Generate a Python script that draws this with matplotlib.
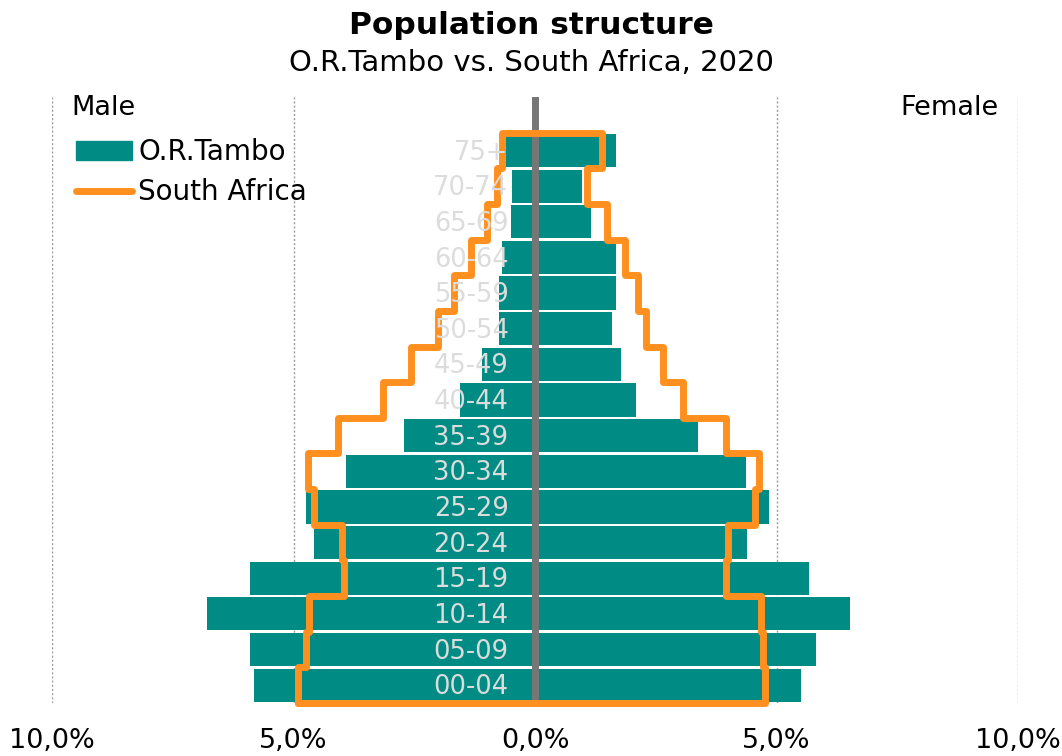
import matplotlib
import matplotlib.pyplot as plt
import numpy as np
from matplotlib.patches import Patch
from matplotlib.lines import Line2D

matplotlib.rcParams.update({'font.family': 'DejaVu Sans'})

# %%
ages = ['00-04', '05-09', '10-14', '15-19', '20-24', '25-29', '30-34', '35-39',
        '40-44', '45-49', '50-54', '55-59', '60-64', '65-69', '70-74', '75+']
# share of total population, %
ort_male = [5.82, 5.90, 6.79, 5.90, 4.57, 4.74, 3.91, 2.71,
            1.55, 1.09, 0.74, 0.74, 0.69, 0.49, 0.47, 0.61]
ort_female = [5.51, 5.82, 6.53, 5.67, 4.39, 4.84, 4.37, 3.38,
              2.09, 1.79, 1.60, 1.67, 1.67, 1.15, 0.98, 1.67]
sa_male = [4.91, 4.74, 4.68, 3.95, 3.99, 4.57, 4.70, 4.08,
           3.14, 2.56, 2.00, 1.68, 1.32, 1.00, 0.78, 0.68]
sa_female = [4.76, 4.73, 4.68, 3.95, 3.99, 4.55, 4.64, 3.95,
             3.06, 2.64, 2.29, 2.13, 1.87, 1.48, 1.07, 1.39]
xticks = [-10, -5, 0, 5, 10]
xticklabels = ['10,0%', '5,0%', '0,0%', '5,0%', '10,0%']

teal = '#008C84'
orange = '#FF9020'
# %%
fig = plt.figure(figsize=(10.62, 7.56), dpi=100)
ax = fig.add_axes([0.049, 0.0701, 0.9096, 0.8016])

y = np.arange(len(ages))
ax.barh(y, -np.array(ort_male), height=0.93, color=teal, zorder=2)
ax.barh(y, ort_female, height=0.93, color=teal, zorder=2)
ax.axvline(0, color='#767676', lw=5, zorder=3)

# South Africa outline as one closed step path
px, py = [], []
for i, v in enumerate(sa_male):
    px += [-v, -v]
    py += [i - 0.5, i + 0.5]
for i in range(len(sa_female) - 1, -1, -1):
    v = sa_female[i]
    px += [v, v]
    py += [i + 0.5, i - 0.5]
px.append(px[0])
py.append(py[0])
ax.plot(px, py, color=orange, lw=5, solid_joinstyle='round',
        solid_capstyle='round', zorder=4, clip_on=False)

for i, a in enumerate(ages):
    ax.text(-0.55, i - 0.06, a, ha='right', va='center', fontsize=18.5,
            color='#DCDCDC', zorder=5)

ax.set_xlim(-10, 10)
ax.set_ylim(-0.5, 16.5)
ax.set_xticks(xticks)
ax.set_xticklabels(xticklabels, fontsize=19.5)
ax.tick_params(axis='x', length=0, pad=18)
ax.set_yticks([])
for x in [-10, -5, 5, 10]:
    ax.axvline(x, color='#9A9A9A', lw=1, ls=(0, (1.5, 1.5)), zorder=1)
for s in ax.spines.values():
    s.set_visible(False)

ax.text(-9.6, 16.2, 'Male', ha='left', va='center', fontsize=19.5)
ax.text(9.6, 16.2, 'Female', ha='right', va='center', fontsize=19.5)

handles = [Patch(color=teal), Line2D([], [], color=orange, lw=5,
                                     solid_capstyle='round')]
ax.legend(handles, ['O.R.Tambo', 'South Africa'], loc='upper left',
          bbox_to_anchor=(76 / 1062, 1 - 138 / 756),
          bbox_transform=fig.transFigure, frameon=False, fontsize=20,
          handlelength=2.0, handletextpad=0.25, labelspacing=0.45,
          borderpad=0, borderaxespad=0)

fig.text(0.5, 1 - 25 / 756, 'Population structure', ha='center',
         va='center', fontsize=22.5, fontweight='bold')
fig.text(0.5, 1 - 63 / 756, 'O.R.Tambo vs. South Africa, 2020',
         ha='center', va='center', fontsize=21)

plt.savefig('out.png', dpi=100)
